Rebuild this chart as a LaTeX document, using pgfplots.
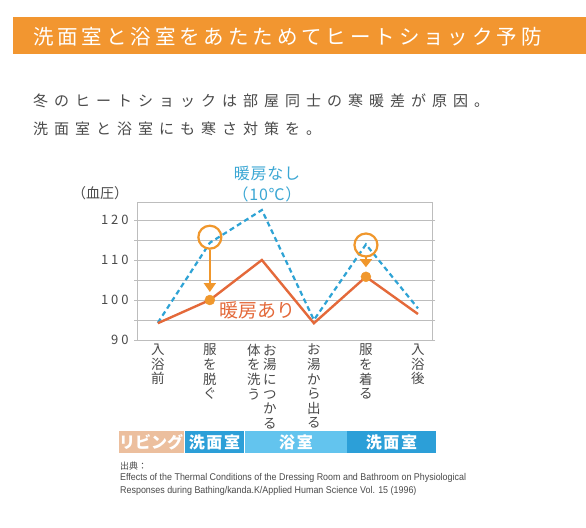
\documentclass[border=0pt]{standalone}
\usepackage{fontspec}
\usepackage{pgfplots}
\pgfplotsset{compat=1.18}
\usetikzlibrary{arrows.meta}
\setmainfont{Noto Sans CJK JP}
\newfontfamily\jp{Noto Sans CJK JP}
\newfontfamily\en{Liberation Sans}[FakeStretch=0.91]
\definecolor{hdr}{HTML}{F29630}
\definecolor{ring}{HTML}{F0972C}
\definecolor{lineor}{HTML}{E4693A}
\definecolor{lineblue}{HTML}{2EA3D5}
\definecolor{txtblue}{HTML}{3BA7D4}
\definecolor{gridc}{HTML}{BDBDBD}
\definecolor{txt}{HTML}{4A4A4A}
\definecolor{peach}{HTML}{ECBF9E}
\definecolor{midblue}{HTML}{2C9FD8}
\definecolor{ltblue}{HTML}{63C4EE}
\newcommand\vt[1]{\parbox[t]{14bp}{\centering\fontsize{13.5bp}{14.6bp}\selectfont #1\par}}
\begin{document}
\begin{tikzpicture}[x=1bp,y=-1bp]
\fill[white] (0,0) rectangle (586,528);
% header
\fill[hdr] (13,17) rectangle (586,54);
\node[anchor=west, inner sep=0, text=white, font={\fontsize{20.5bp}{22bp}\selectfont\addfontfeature{LetterSpace=19}}] at (33,36.5) {洗面室と浴室をあたためてヒートショック予防};
\node[anchor=west, inner sep=0, text=txt, font={\fontsize{15bp}{17bp}\selectfont\addfontfeature{LetterSpace=40}}] at (33,101) {冬のヒートショックは部屋同士の寒暖差が原因。};
\node[anchor=west, inner sep=0, text=txt, font={\fontsize{15bp}{17bp}\selectfont\addfontfeature{LetterSpace=40}}] at (33,129) {洗面室と浴室にも寒さ対策を。};
\begin{axis}[
  at={(137bp,-340bp)}, anchor=south west,
  width=295bp, height=138bp, scale only axis,
  xmin=-0.4, xmax=5.27, ymin=90, ymax=124.5,
  axis line style={draw=gridc, line width=0.8pt},
  ytick={90,100,110,120}, minor ytick={95,105,115},
  yticklabels={90,100,110,120},
  ymajorgrids, yminorgrids,
  major grid style={draw=gridc, line width=0.8pt},
  minor grid style={draw=gridc, line width=0.8pt},
  y tick style={draw=gridc, line width=0.8pt},
  tick align=outside, major tick length=3bp, minor tick length=3bp,
  xtick={0,1,2,3,4,5}, x tick style={draw=none},
  yticklabel style={text=txt, font={\fontsize{13bp}{14bp}\selectfont\addfontfeature{LetterSpace=22}}, xshift=-2bp},
  xticklabel style={text=txt, anchor=north, yshift=2.5bp},
  xticklabels={{\vt{入\\浴\\前}},{\vt{服\\を\\脱\\ぐ}},{\vt{体\\を\\洗\\う}\hspace{2bp}\vt{お\\湯\\に\\つ\\か\\る}},{\vt{お\\湯\\か\\ら\\出\\る}},{\vt{服\\を\\着\\る}},{\vt{入\\浴\\後}}},
  clip=false,
]
\addplot[lineblue, line width=2.2bp, dash pattern=on 5bp off 3.5bp] coordinates {(0,94.3)(1,114.3)(2,122.5)(3,95)(4,113.9)(5,97.9)};
\addplot[lineor, line width=2.4bp] coordinates {(0,94.2)(1,100)(2,110)(3,94.2)(4,105.8)(5,96.5)};
\addplot[ring, only marks, mark=*, mark size=5bp] coordinates {(1,100)(4,105.8)};
\addplot[ring, only marks, mark=o, mark size=11.5bp, mark options={line width=2.2bp}] coordinates {(1,115.7)(4,113.75)};
\addplot[ring, line width=2bp, -{Triangle[width=12bp,length=9bp]}] coordinates {(1,112.6)(1,102)};
\addplot[ring, line width=2bp, -{Triangle[width=12bp,length=8bp]}] coordinates {(4,110.7)(4,108.2)};
\end{axis}
\node[text=txt, font={\fontsize{14bp}{15bp}\selectfont}] at (100,193) {（血圧）};
\node[text=txtblue, font={\fontsize{16bp}{17bp}\selectfont\addfontfeature{LetterSpace=5}}] at (267,174) {暖房なし};
\node[text=txtblue, font={\fontsize{16bp}{17bp}\selectfont\addfontfeature{LetterSpace=5}}] at (267,194) {（10℃）};
\node[text=lineor, font={\fontsize{19bp}{20bp}\selectfont}] at (257,310) {暖房あり};
% room bar
\fill[peach] (119,431) rectangle (183.5,453);
\fill[midblue] (185,431) rectangle (244,453);
\fill[ltblue] (245,431) rectangle (347,453);
\fill[midblue] (347,431) rectangle (436,453);
\node[text=white, font={\fontsize{16bp}{17bp}\selectfont\bfseries}] at (151,442) {リビング};
\node[text=white, font={\fontsize{16bp}{17bp}\selectfont\bfseries\addfontfeature{LetterSpace=10}}] at (214.5,442) {洗面室};
\node[text=white, font={\fontsize{16bp}{17bp}\selectfont\bfseries\addfontfeature{LetterSpace=10}}] at (296,442) {浴室};
\node[text=white, font={\fontsize{16bp}{17bp}\selectfont\bfseries\addfontfeature{LetterSpace=10}}] at (391.5,442) {洗面室};
% source
\node[anchor=west, inner sep=0, text=txt, font={\fontsize{9bp}{10bp}\selectfont}] at (120,466) {出典：};
\node[anchor=west, inner sep=0, text=txt, font={\en\fontsize{9.8bp}{10bp}\selectfont}] at (120,478) {Effects of the Thermal Conditions of the Dressing Room and Bathroom on Physiological};
\node[anchor=west, inner sep=0, text=txt, font={\en\fontsize{9.8bp}{10bp}\selectfont}] at (120,491) {Responses during Bathing/kanda.K/Applied Human Science Vol. 15 (1996)};
\end{tikzpicture}
\end{document}
